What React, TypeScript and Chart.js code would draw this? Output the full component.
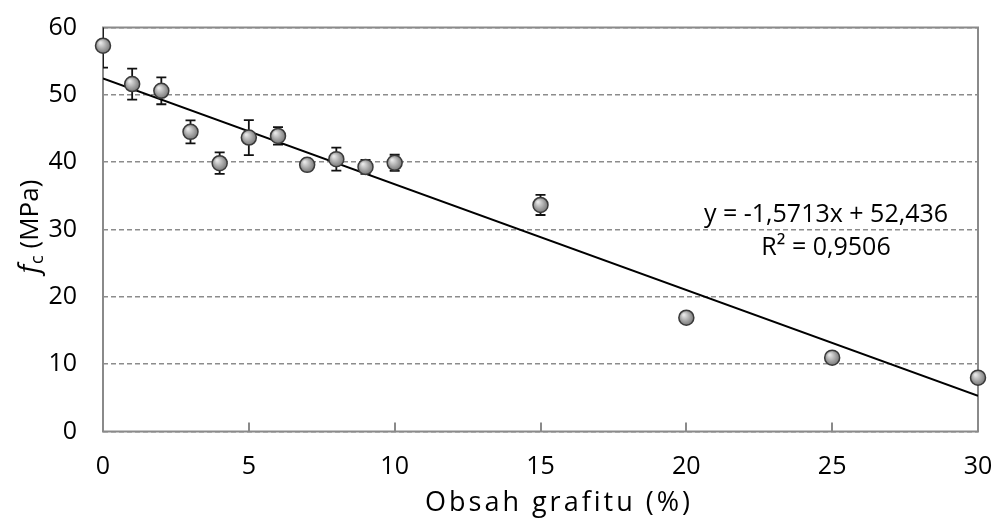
import React, { useEffect, useRef } from "react";
import { Chart, registerables } from "chart.js";

Chart.register(...registerables);

// ---- data ----
const grafitX: number[] = [0, 1, 2, 3, 4, 5, 6, 7, 8, 9, 10, 15, 20, 25, 30];
const strengthY: number[] = [57.3, 51.6, 50.6, 44.5, 39.85, 43.65, 43.9, 39.6, 40.45, 39.3, 39.9, 33.65, 16.9, 10.97, 8.0];
const strengthErr: number[] = [3.25, 2.3, 2.0, 1.7, 1.6, 2.6, 1.3, 0.8, 1.7, 1.05, 1.2, 1.5, 0.5, 0.4, 0.4];
const trendSlope = -1.5713;
const trendIntercept = 52.436;
const trendRange: number[] = [0, 30];
const xTicks: number[] = [0, 5, 10, 15, 20, 25, 30];
const yTicks: number[] = [0, 10, 20, 30, 40, 50, 60];
const equationLines: string[] = ["y = -1,5713x + 52,436", "R\u00B2 = 0,9506"];
const xTitle = "Obsah grafitu (%)";

const FONT = "'Open Sans', 'Noto Sans', sans-serif";

const decorPlugin = {
  id: "decor",
  beforeDatasetsDraw(chart: any) {
    const { ctx, chartArea: a, scales } = chart;
    const xs = scales.x;
    const ys = scales.y;
    ctx.save();
    // plot box
    ctx.strokeStyle = "#8a8a8a";
    ctx.lineWidth = 2;
    ctx.setLineDash([]);
    ctx.strokeRect(a.left, a.top, a.right - a.left, a.bottom - a.top);
    // inner x tick marks
    ctx.beginPath();
    for (const t of xTicks) {
      const px = Math.round(xs.getPixelForValue(t));
      ctx.moveTo(px, a.bottom);
      ctx.lineTo(px, a.bottom - 9);
    }
    ctx.stroke();
    // error bars
    ctx.beginPath();
    ctx.rect(a.left, a.top, a.right - a.left, a.bottom - a.top);
    ctx.clip();
    ctx.strokeStyle = "#111";
    ctx.lineWidth = 1.8;
    ctx.beginPath();
    grafitX.forEach((xv, i) => {
      const px = xs.getPixelForValue(xv);
      const hi = ys.getPixelForValue(strengthY[i] + strengthErr[i]);
      const lo = ys.getPixelForValue(strengthY[i] - strengthErr[i]);
      ctx.moveTo(px, hi);
      ctx.lineTo(px, lo);
      ctx.moveTo(px - 5, hi);
      ctx.lineTo(px + 5, hi);
      ctx.moveTo(px - 5, lo);
      ctx.lineTo(px + 5, lo);
    });
    ctx.stroke();
    ctx.restore();
  },
  afterDraw(chart: any) {
    const { ctx, chartArea: a } = chart;
    ctx.save();
    ctx.fillStyle = "#000";
    // equation
    ctx.font = `25px ${FONT}`;
    ctx.textAlign = "center";
    ctx.textBaseline = "alphabetic";
    ctx.fillText(equationLines[0], 826, 222);
    ctx.fillText(equationLines[1], 826, 255);
    // x title
    ctx.font = `27px ${FONT}`;
    (ctx as any).letterSpacing = "3px";
    ctx.fillText(xTitle, 559, 511);
    (ctx as any).letterSpacing = "0px";
    // y title (rotated)
    const cy = (a.top + a.bottom) / 2 - 3;
    ctx.translate(29, cy);
    ctx.rotate(-Math.PI / 2);
    ctx.textAlign = "left";
    const fFont = `italic 27px ${FONT}`;
    const subFont = `18px ${FONT}`;
    const mainFont = `26px ${FONT}`;
    ctx.font = fFont;
    const wf = ctx.measureText("f").width;
    ctx.font = subFont;
    const wc = ctx.measureText("c").width;
    ctx.font = mainFont;
    const rest = " (MPa)";
    const wr = ctx.measureText(rest).width;
    const total = wf + 1 + wc + wr;
    let x0 = -total / 2;
    ctx.font = fFont;
    ctx.fillText("f", x0, 9);
    x0 += wf + 1;
    ctx.font = subFont;
    ctx.fillText("c", x0, 14);
    x0 += wc;
    ctx.font = mainFont;
    ctx.fillText(rest, x0, 9);
    ctx.restore();
  },
};

function markerFill(c: any) {
  const chart = c.chart;
  if (!c.parsed || !chart.scales || !chart.scales.x || !chart.scales.y) return "#a0a0a0";
  const px = chart.scales.x.getPixelForValue(c.parsed.x);
  const py = chart.scales.y.getPixelForValue(c.parsed.y);
  if (!Number.isFinite(px) || !Number.isFinite(py)) return "#a0a0a0";
  const r = 7.5;
  const g = chart.ctx.createRadialGradient(px - r * 0.35, py - r * 0.4, r * 0.1, px, py, r * 1.1);
  g.addColorStop(0, "#e6e6e6");
  g.addColorStop(1, "#6f6f6f");
  return g;
}

export default function App() {
  const ref = useRef<HTMLCanvasElement | null>(null);
  useEffect(() => {
    if (!ref.current) return;
    const points = grafitX.map((x, i) => ({ x, y: strengthY[i] }));
    const trend = trendRange.map((x) => ({ x, y: trendIntercept + trendSlope * x }));
    const chart = new Chart(ref.current, {
      type: "scatter",
      data: {
        datasets: [
          {
            type: "scatter",
            data: points,
            pointRadius: 7.5,
            pointBorderWidth: 1.5,
            pointBorderColor: "#3a3a3a",
            pointBackgroundColor: markerFill as any,
            clip: false as any,
            order: 0,
          } as any,
          {
            type: "line",
            data: trend,
            borderColor: "#000",
            borderWidth: 2,
            pointRadius: 0,
            fill: false,
            order: 1,
          } as any,
        ],
      },
      options: {
        animation: false,
        responsive: false,
        devicePixelRatio: 1,
        layout: { padding: { top: 27.5, right: 19, bottom: 0, left: 0 } },
        plugins: { legend: { display: false }, tooltip: { enabled: false } },
        scales: {
          x: {
            type: "linear",
            min: 0,
            max: 30,
            afterBuildTicks: (s: any) => {
              s.ticks = xTicks.map((v) => ({ value: v }));
            },
            afterFit: (s: any) => {
              s.height = 91.5;
              s.paddingLeft = 0;
              s.paddingRight = 0;
            },
            grid: { display: false },
            border: { display: false },
            ticks: { color: "#000", font: { family: FONT, size: 25 }, padding: 12, maxRotation: 0 },
          },
          y: {
            type: "linear",
            min: 0,
            max: 60,
            afterBuildTicks: (s: any) => {
              s.ticks = yTicks.map((v) => ({ value: v }));
            },
            afterFit: (s: any) => {
              s.width = 103;
              s.paddingTop = 0;
              s.paddingBottom = 0;
            },
            grid: { color: "#8c8c8c", lineWidth: 1.5, drawTicks: false },
            border: { display: false, dash: [5, 3] },
            ticks: { color: "#000", font: { family: FONT, size: 25 }, padding: 26 },
          },
        },
      } as any,
      plugins: [decorPlugin],
    });
    return () => chart.destroy();
  }, []);
  return (
    <div style={{ position: "fixed", left: 0, top: 0, width: 997, height: 523, background: "#fff" }}>
      <canvas ref={ref} width={997} height={523} style={{ width: 997, height: 523 }} />
    </div>
  );
}
